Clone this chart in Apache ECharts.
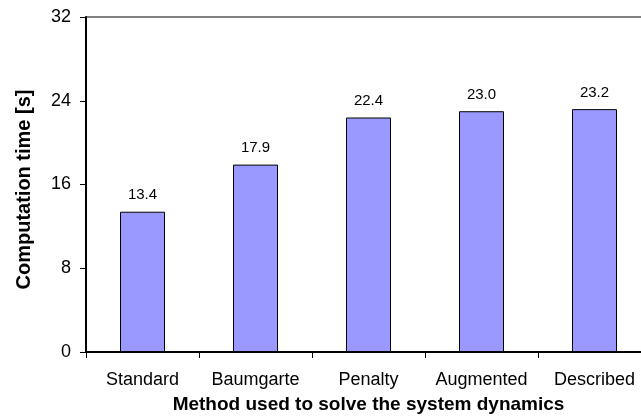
<!DOCTYPE html>
<html><head><meta charset="utf-8">
<script src="https://cdn.jsdelivr.net/npm/echarts@6/dist/echarts.min.js"></script>
<style>html,body{margin:0;padding:0;background:#fff}#c{width:641px;height:416px}</style>
</head><body><div id="c"></div>
<script>
const categories = ['Standard', 'Baumgarte', 'Penalty', 'Augmented', 'Described'];
const times = [13.4, 17.9, 22.4, 23.0, 23.2];
const yTicks = [0, 8, 16, 24, 32];

const chart = echarts.init(document.getElementById('c'), null, {renderer: 'canvas'});
const font = 'Liberation Sans, Arial, sans-serif';
chart.setOption({
  animation: false,
  backgroundColor: '#fff',
  grid: {left: 86, top: 17, width: 565, height: 335, show: true, borderColor: '#000', borderWidth: 1,
    backgroundColor: 'transparent', containLabel: false, outerBoundsMode: 'none'},
  xAxis: {
    type: 'category', data: categories,
    name: 'Method used to solve the system dynamics', nameLocation: 'middle', nameGap: 43,
    nameTextStyle: {fontFamily: font, fontWeight: 'bold', fontSize: 19, color: '#000'},
    axisLine: {lineStyle: {color: '#000', width: 2}},
    axisTick: {show: true, alignWithLabel: false, length: 6, lineStyle: {color: '#000', width: 1}},
    axisLabel: {fontFamily: font, fontSize: 18, color: '#000', margin: 19, interval: 0}
  },
  yAxis: {
    type: 'value', min: yTicks[0], max: yTicks[yTicks.length - 1], interval: 8,
    name: 'Computation time [s]', nameLocation: 'middle', nameGap: 52,
    nameTextStyle: {fontFamily: font, fontWeight: 'bold', fontSize: 20, color: '#000', padding: [0, 10, 0, 0]},
    axisLine: {show: true, lineStyle: {color: '#000', width: 2}},
    axisTick: {show: true, length: 6, lineStyle: {color: '#000', width: 1}},
    axisLabel: {fontFamily: font, fontSize: 18, color: '#000', margin: 15},
    splitLine: {show: false}
  },
  series: [{
    type: 'bar', data: times, barWidth: 45,
    itemStyle: {color: '#9999FF', borderColor: '#000', borderWidth: 1},
    label: {show: true, position: 'top', distance: 9, fontFamily: font, fontSize: 15, color: '#000',
      formatter: p => p.value.toFixed(1)}
  }]
});
</script></body></html>
